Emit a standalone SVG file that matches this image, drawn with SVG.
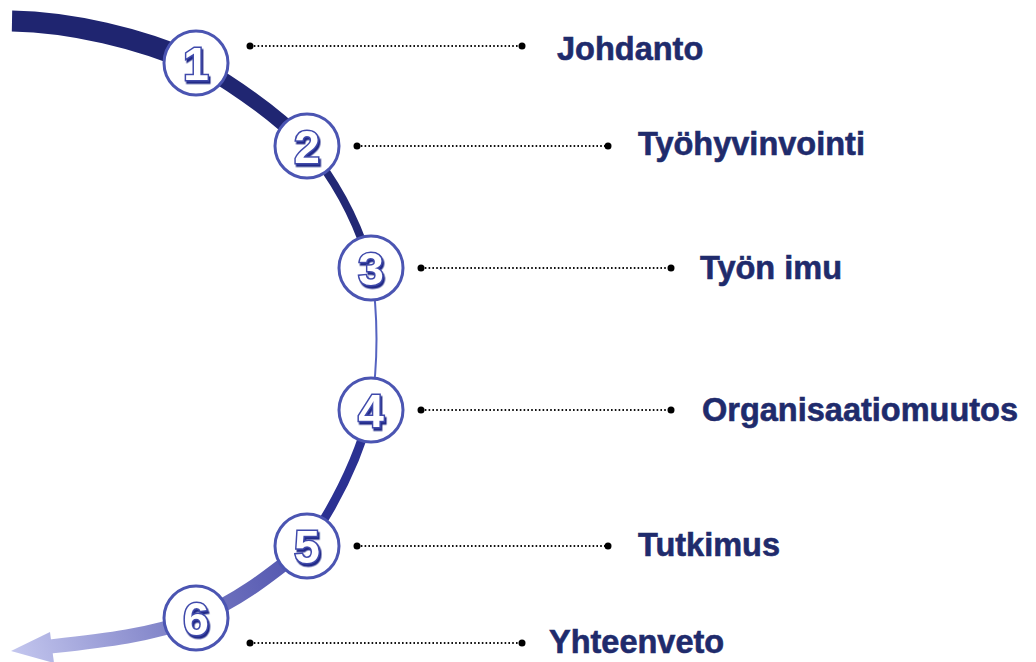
<svg xmlns="http://www.w3.org/2000/svg" width="1036" height="662" viewBox="0 0 1036 662">
<defs>
<linearGradient id="gBottom" gradientUnits="userSpaceOnUse" x1="320" y1="540" x2="12" y2="650">
<stop offset="0" stop-color="#4a4dab"/>
<stop offset="0.45" stop-color="#7679c2"/>
<stop offset="1" stop-color="#c3c6ee"/>
</linearGradient>
<filter id="numShadow" x="-30%" y="-30%" width="160%" height="160%">
<feDropShadow dx="1.5" dy="2.5" stdDeviation="0.3" flood-color="#222a88" flood-opacity="1"/>
</filter>
<style>
.lbl{font-family:"Liberation Sans",Arial,sans-serif;font-weight:bold;font-size:32.5px;fill:#1f2b6c;stroke:#1f2b6c;stroke-width:0.6}
.ring{fill:#ffffff;stroke:#4b55b2;stroke-width:3}
.num{font-family:"Liberation Sans",Arial,sans-serif;font-weight:bold;font-size:46px;text-anchor:middle;fill:#ffffff;stroke:#3f4aab;stroke-width:3;paint-order:stroke fill;filter:url(#numShadow)}
.dots{stroke:#111111;stroke-width:2;stroke-dasharray:1.6 2.2;fill:none}
.dot{fill:#000000}
</style>
</defs>
<g id="connectors">
<path d="M12,21 C70,22 140,38 196,63" fill="none" stroke="#1f2570" stroke-width="21"/>
<path d="M196,63 C235,86 275,113 307,146" fill="none" stroke="#202672" stroke-width="15"/>
<path d="M307,146 C335,180 358,222 371,268" fill="none" stroke="#222875" stroke-width="8"/>
<path d="M371,268 Q382,339 371,410" fill="none" stroke="#5563c0" stroke-width="2"/>
<path d="M371,410 C358,460 335,505 307,546" fill="none" stroke="#2b3192" stroke-width="9"/>
<path d="M307,546 C270,575 240,600 196,618 C150,636 100,641 46,647" fill="none" stroke="url(#gBottom)" stroke-width="14"/>
<polygon points="11,651 50,632 54,663" fill="url(#gBottom)"/>
<line class="dots" x1="250" y1="46" x2="522" y2="46"/>
<circle class="dot" cx="250" cy="46" r="3.5"/><circle class="dot" cx="522" cy="46" r="3.5"/>
<line class="dots" x1="357" y1="146" x2="608" y2="146"/>
<circle class="dot" cx="357" cy="146" r="3.5"/><circle class="dot" cx="608" cy="146" r="3.5"/>
<line class="dots" x1="421" y1="268" x2="671" y2="268"/>
<circle class="dot" cx="421" cy="268" r="3.5"/><circle class="dot" cx="671" cy="268" r="3.5"/>
<line class="dots" x1="421" y1="410" x2="671" y2="410"/>
<circle class="dot" cx="421" cy="410" r="3.5"/><circle class="dot" cx="671" cy="410" r="3.5"/>
<line class="dots" x1="357" y1="546" x2="608" y2="546"/>
<circle class="dot" cx="357" cy="546" r="3.5"/><circle class="dot" cx="608" cy="546" r="3.5"/>
<line class="dots" x1="250" y1="643" x2="522" y2="643"/>
<circle class="dot" cx="250" cy="643" r="3.5"/><circle class="dot" cx="522" cy="643" r="3.5"/>
</g>
<g id="node1">
<circle class="ring" cx="196" cy="63" r="32"/>
<text class="num" x="196" y="80">1</text>
<text class="lbl" x="557" y="60">Johdanto</text>
</g>
<g id="node2">
<circle class="ring" cx="307" cy="146" r="32"/>
<text class="num" x="307" y="163">2</text>
<text class="lbl" x="638" y="155">Työhyvinvointi</text>
</g>
<g id="node3">
<circle class="ring" cx="371" cy="268" r="32"/>
<text class="num" x="371" y="285">3</text>
<text class="lbl" x="700" y="279">Työn imu</text>
</g>
<g id="node4">
<circle class="ring" cx="371" cy="410" r="32"/>
<text class="num" x="371" y="427">4</text>
<text class="lbl" x="702" y="421">Organisaatiomuutos</text>
</g>
<g id="node5">
<circle class="ring" cx="307" cy="546" r="32"/>
<text class="num" x="307" y="563">5</text>
<text class="lbl" x="638" y="556">Tutkimus</text>
</g>
<g id="node6">
<circle class="ring" cx="196" cy="618" r="32"/>
<text class="num" x="196" y="635">6</text>
<text class="lbl" x="549" y="653">Yhteenveto</text>
</g>
</svg>
